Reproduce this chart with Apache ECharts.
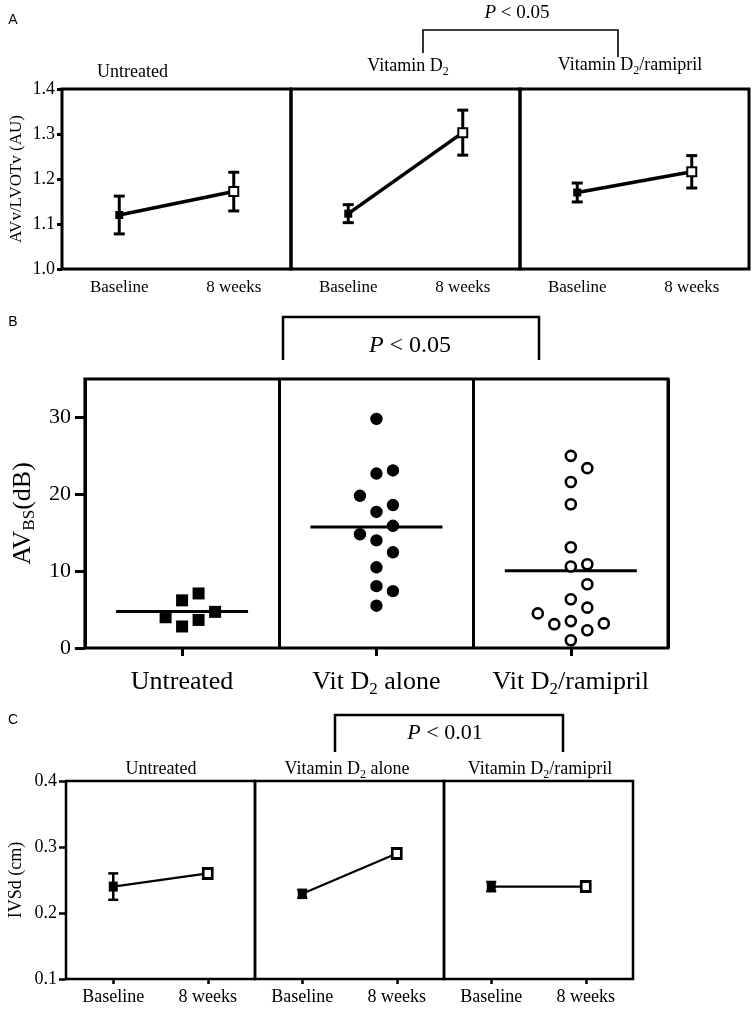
<!DOCTYPE html>
<html><head><meta charset="utf-8">
<script src="https://cdn.jsdelivr.net/npm/echarts@6/dist/echarts.min.js"></script>
<style>html,body{margin:0;padding:0;background:#fff}#c{width:756px;height:1010px}</style>
</head><body><div id="c"></div>
<script>
// ---------- data ----------
const timepoints = ['Baseline', '8 weeks'];
const groupsA = ['Untreated', 'Vitamin D2', 'Vitamin D2/ramipril'];
const groupsB = ['Untreated', 'Vit D2 alone', 'Vit D2/ramipril'];
const groupsC = ['Untreated', 'Vitamin D2 alone', 'Vitamin D2/ramipril'];

// Panel A: AVv/LVOTv (AU) — mean and error bar half-length
const ratioUntreated = [1.120, 1.172];
const ratioUntreatedErr = [0.042, 0.043];
const ratioVitD = [1.123, 1.303];
const ratioVitDErr = [0.020, 0.050];
const ratioVitDRam = [1.170, 1.216];
const ratioVitDRamErr = [0.021, 0.036];

// Panel B: AV_BS (dB) individual values
const avbsUntreated = [7.1, 6.2, 4.7, 4.0, 3.65, 2.8];
const avbsVitD = [29.8, 23.1, 22.7, 19.8, 18.6, 17.7, 15.9, 14.8, 14.0, 12.45, 10.5, 8.05, 7.4, 5.5];
const avbsVitDRam = [25.0, 23.4, 21.6, 18.7, 13.1, 10.9, 10.6, 8.3, 6.35, 5.25, 4.5, 3.5, 3.1, 3.2, 2.3, 1.0];

// Panel C: IVSd (cm) — mean and error bar half-length
const ivsdUntreated = [0.240, 0.260];
const ivsdUntreatedErr = [0.020, 0.007];
const ivsdVitD = [0.229, 0.290];
const ivsdVitDErr = [0.006, 0.006];
const ivsdVitDRam = [0.240, 0.240];
const ivsdVitDRamErr = [0.007, 0.004];

// tick labels
const ticksA = [1.0, 1.1, 1.2, 1.3, 1.4];
const ticksB = [0, 10, 20, 30];
const ticksC = [0.1, 0.2, 0.3, 0.4];
const maxB = 35;

// ---------- build ----------
const SERIF = 'Liberation Serif';
const SANS = 'Liberation Sans';
const sub = (s) => s.replace('D2', 'D{s|2}');

const meansA = [ratioUntreated, ratioVitD, ratioVitDRam];
const errsA = [ratioUntreatedErr, ratioVitDErr, ratioVitDRamErr];
const meansC = [ivsdUntreated, ivsdVitD, ivsdVitDRam];
const errsC = [ivsdUntreatedErr, ivsdVitDErr, ivsdVitDRamErr];
const valsB = [avbsUntreated, avbsVitD, avbsVitDRam];

const grids = [], xAxes = [], yAxes = [], series = [];

function errBarSeries(idx, means, errs, capW, lw) {
  return {
    type: 'custom', xAxisIndex: idx, yAxisIndex: idx, z: 2, silent: true,
    data: means.map((m, i) => [i, m - errs[i], m + errs[i]]),
    encode: { x: 0, y: [1, 2] },
    renderItem: (params, api) => {
      const lo = api.coord([api.value(0), api.value(1)]);
      const hi = api.coord([api.value(0), api.value(2)]);
      const st = { stroke: '#000', lineWidth: lw };
      const h = capW / 2;
      return { type: 'group', children: [
        { type: 'line', shape: { x1: lo[0], y1: lo[1], x2: hi[0], y2: hi[1] }, style: st },
        { type: 'line', shape: { x1: lo[0] - h, y1: lo[1], x2: lo[0] + h, y2: lo[1] }, style: st },
        { type: 'line', shape: { x1: hi[0] - h, y1: hi[1], x2: hi[0] + h, y2: hi[1] }, style: st }
      ]};
    }
  };
}

function meanLineSeries(idx, means, lw, fillSize, openSize, openBorder) {
  return {
    type: 'line', xAxisIndex: idx, yAxisIndex: idx, z: 3, silent: true,
    lineStyle: { color: '#000', width: lw },
    showAllSymbol: true,
    data: means.map((m, i) => i === 0
      ? { value: m, symbol: 'rect', symbolSize: fillSize, itemStyle: { color: '#000', borderWidth: 0 } }
      : { value: m, symbol: 'rect', symbolSize: openSize, itemStyle: { color: '#fff', borderColor: '#000', borderWidth: openBorder } })
  };
}

// Panel A grids
for (let i = 0; i < 3; i++) {
  grids.push({ left: 62 + i * 229, top: 89, width: 229, height: 180, show: true, borderColor: '#000', borderWidth: 3 });
  xAxes.push({ type: 'category', gridIndex: i, data: timepoints, boundaryGap: true,
    axisLine: { show: false }, axisTick: { show: false }, splitLine: { show: false },
    axisLabel: { interval: 0, fontFamily: SERIF, fontSize: 17, color: '#000', margin: 10 } });
  const y = { type: 'value', gridIndex: i, min: ticksA[0], max: ticksA[ticksA.length - 1], splitLine: { show: false } };
  if (i === 0) {
    Object.assign(y, {
      axisLine: { show: false },
      axisTick: { show: true, inside: false, length: 5, lineStyle: { color: '#000', width: 3 }, customValues: ticksA },
      axisLabel: { customValues: ticksA, formatter: v => v.toFixed(1), fontFamily: SERIF, fontSize: 18, color: '#000', margin: 7 },
      name: 'AVv/LVOTv (AU)', nameLocation: 'middle', nameGap: 37,
      nameTextStyle: { fontFamily: SERIF, fontSize: 17, color: '#000' }
    });
  } else { y.show = false; }
  yAxes.push(y);
  series.push(errBarSeries(i, meansA[i], errsA[i], 11, 3));
  series.push(meanLineSeries(i, meansA[i], 3.6, 8, 9, 2));
}

// Panel B grid
const gB = 3;
grids.push({ left: 82, top: 379, width: 586, height: 269, show: true, borderColor: '#000', borderWidth: 3 });
xAxes.push({ type: 'category', gridIndex: gB, data: groupsB, boundaryGap: true,
  axisLine: { show: false },
  axisTick: { show: true, alignWithLabel: true, length: 8, lineStyle: { color: '#000', width: 3 } },
  splitLine: { show: true, lineStyle: { color: '#000', width: 3 } },
  axisLabel: { interval: 0, formatter: sub, fontFamily: SERIF, fontSize: 26, lineHeight: 32, color: '#000', margin: 18,
    rich: { s: { fontFamily: SERIF, fontSize: 17, color: '#000', verticalAlign: 'bottom', lineHeight: 18 } } } });
yAxes.push({ type: 'value', gridIndex: gB, min: ticksB[0], max: maxB, splitLine: { show: false },
  axisLine: { show: false },
  axisTick: { show: true, inside: false, length: 10, lineStyle: { color: '#000', width: 3 }, customValues: ticksB },
  axisLabel: { customValues: ticksB, fontFamily: SERIF, fontSize: 22, color: '#000', margin: 14 },
  name: 'AV{s|BS}(dB)', nameLocation: 'middle', nameGap: 44,
  nameTextStyle: { fontFamily: SERIF, fontSize: 26, lineHeight: 30, color: '#000',
    rich: { s: { fontFamily: SERIF, fontSize: 17, color: '#000', verticalAlign: 'bottom', lineHeight: 16 } } } });

// simple beeswarm: place ascending values in the nearest free column
function swarm(values, tol) {
  const order = values.map((v, i) => i).sort((a, b) => values[a] - values[b]);
  const cols = new Array(values.length);
  const placed = [];
  const tries = [0, 1, -1, 2, -2, 3, -3];
  for (const i of order) {
    for (const c of tries) {
      if (!placed.some(p => p.c === c && Math.abs(p.v - values[i]) < tol)) {
        cols[i] = c; placed.push({ c, v: values[i] }); break;
      }
    }
  }
  return cols;
}
const COL_STEP = 16.5;
const dotKinds = ['square', 'dot', 'ring'];
valsB.forEach((vals, g) => {
  const cols = swarm(vals, 2.4);
  const kind = dotKinds[g];
  series.push({
    type: 'custom', xAxisIndex: gB, yAxisIndex: gB, z: 4, silent: true,
    data: vals.map((v, i) => [g, v, cols[i]]),
    encode: { x: 0, y: 1 },
    renderItem: (params, api) => {
      const p = api.coord([api.value(0), api.value(1)]);
      const cx = p[0] + api.value(2) * COL_STEP, cy = p[1];
      if (kind === 'square') return { type: 'rect', shape: { x: cx - 6, y: cy - 6, width: 12, height: 12 }, style: { fill: '#000' } };
      if (kind === 'dot') return { type: 'circle', shape: { cx, cy, r: 6.2 }, style: { fill: '#000' } };
      return { type: 'circle', shape: { cx, cy, r: 5 }, style: { fill: '#fff', stroke: '#000', lineWidth: 2.6 } };
    }
  });
  const mean = vals.reduce((a, b) => a + b, 0) / vals.length;
  series.push({
    type: 'custom', xAxisIndex: gB, yAxisIndex: gB, z: 3, silent: true,
    data: [[g, mean]], encode: { x: 0, y: 1 },
    renderItem: (params, api) => {
      const p = api.coord([api.value(0), api.value(1)]);
      return { type: 'line', shape: { x1: p[0] - 66, y1: p[1], x2: p[0] + 66, y2: p[1] }, style: { stroke: '#000', lineWidth: 3 } };
    }
  });
});

// Panel C grids
for (let i = 0; i < 3; i++) {
  const idx = 4 + i;
  grids.push({ left: 66 + i * 189, top: 781, width: 189, height: 198, show: true, borderColor: '#000', borderWidth: 2.5 });
  xAxes.push({ type: 'category', gridIndex: idx, data: timepoints, boundaryGap: true,
    axisLine: { show: false },
    axisTick: { show: true, alignWithLabel: true, length: 5, lineStyle: { color: '#000', width: 2.5 } },
    splitLine: { show: false },
    axisLabel: { interval: 0, fontFamily: SERIF, fontSize: 18, color: '#000', margin: 9 } });
  const y = { type: 'value', gridIndex: idx, min: ticksC[0], max: ticksC[ticksC.length - 1], splitLine: { show: false } };
  if (i === 0) {
    Object.assign(y, {
      axisLine: { show: false },
      axisTick: { show: true, inside: false, length: 7, lineStyle: { color: '#000', width: 2.5 }, customValues: ticksC },
      axisLabel: { customValues: ticksC, formatter: v => v.toFixed(1), fontFamily: SERIF, fontSize: 18, color: '#000', margin: 9 },
      name: 'IVSd (cm)', nameLocation: 'middle', nameGap: 41,
      nameTextStyle: { fontFamily: SERIF, fontSize: 18, color: '#000' }
    });
  } else { y.show = false; }
  yAxes.push(y);
  series.push(errBarSeries(idx, meansC[i], errsC[i], 10, 2.5));
  series.push(meanLineSeries(idx, meansC[i], 2.2, [9, 10], [9, 10], 2.8));
}

// ---------- annotations ----------
function label(text, x, y, fs, align, family) {
  return { type: 'text', x, y, silent: true, style: {
    text, fontFamily: family || SERIF, fontSize: fs, fill: '#000', align: align || 'center', verticalAlign: 'middle',
    lineHeight: fs + 6, rich: { s: { fontFamily: SERIF, fontSize: Math.round(fs * 0.68), fill: '#000', verticalAlign: 'bottom', lineHeight: Math.round(fs * 0.7) },
      i: { fontFamily: SERIF, fontSize: fs, fill: '#000', fontStyle: 'italic', lineHeight: fs + 6 } } } };
}
function bracket(pts, lw) {
  return { type: 'polyline', silent: true, shape: { points: pts }, style: { stroke: '#000', lineWidth: lw, fill: null } };
}
const graphic = [
  label('A', 13, 20, 14, 'center', SANS),
  label(groupsA[0], 97, 72, 18, 'left'),
  label(sub(groupsA[1]), 408, 66, 18),
  label(sub(groupsA[2]), 630, 65, 18),
  bracket([[423, 53], [423, 30], [618, 30], [618, 57]], 1.6),
  label('{i|P} < 0.05', 517, 13, 19),

  label('B', 13, 322, 14, 'center', SANS),
  bracket([[283, 360], [283, 317], [539, 317], [539, 360]], 2.5),
  label('{i|P} < 0.05', 410, 346, 24),

  label('C', 13, 720, 14, 'center', SANS),
  bracket([[335, 752], [335, 715], [563, 715], [563, 752]], 2.5),
  label('{i|P} < 0.01', 445, 733, 22),
  label(groupsC[0], 161, 769, 18),
  label(sub(groupsC[1]), 347, 769, 18),
  label(sub(groupsC[2]), 540, 769, 18)
];

const chart = echarts.init(document.getElementById('c'), null, { renderer: 'canvas' });
chart.setOption({
  animation: false,
  backgroundColor: '#fff',
  grid: grids, xAxis: xAxes, yAxis: yAxes, series, graphic
});
</script></body></html>
